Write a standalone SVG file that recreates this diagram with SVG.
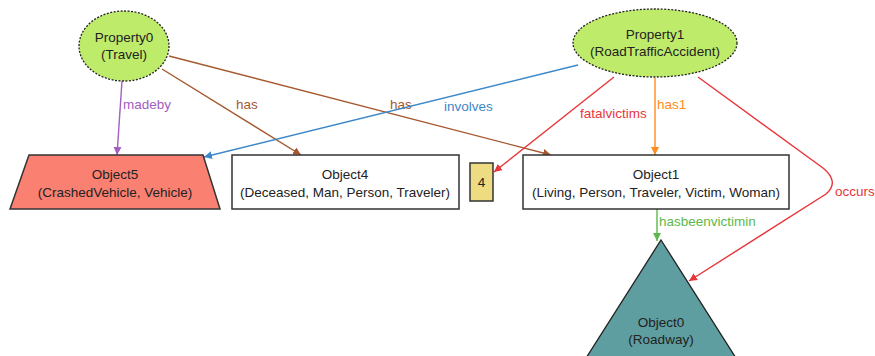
<svg xmlns="http://www.w3.org/2000/svg" width="875" height="356" viewBox="0 0 875 356">
<style>
text{font-family:"Liberation Sans",Arial,sans-serif;font-size:13.5px;text-anchor:middle;fill:#222}
.prop{fill:#bfeb6a;stroke:#222;stroke-width:1.3;stroke-dasharray:2 1.5}
.box{fill:#fff;stroke:#333;stroke-width:1.5}
.e{fill:none;stroke-width:1.4}
.lbl{text-anchor:start}
</style>
<defs>
<marker id="aP" viewBox="0 0 10 10" refX="10" refY="5" markerWidth="8" markerHeight="8" orient="auto" markerUnits="userSpaceOnUse"><path d="M0,0L10,5L0,10z" fill="#a25ec0"/></marker>
<marker id="aB" viewBox="0 0 10 10" refX="10" refY="5" markerWidth="8" markerHeight="8" orient="auto" markerUnits="userSpaceOnUse"><path d="M0,0L10,5L0,10z" fill="#a5582e"/></marker>
<marker id="aL" viewBox="0 0 10 10" refX="10" refY="5" markerWidth="8" markerHeight="8" orient="auto" markerUnits="userSpaceOnUse"><path d="M0,0L10,5L0,10z" fill="#3d88c8"/></marker>
<marker id="aR" viewBox="0 0 10 10" refX="10" refY="5" markerWidth="8" markerHeight="8" orient="auto" markerUnits="userSpaceOnUse"><path d="M0,0L10,5L0,10z" fill="#e8353a"/></marker>
<marker id="aO" viewBox="0 0 10 10" refX="10" refY="5" markerWidth="8" markerHeight="8" orient="auto" markerUnits="userSpaceOnUse"><path d="M0,0L10,5L0,10z" fill="#ff8c1a"/></marker>
<marker id="aG" viewBox="0 0 10 10" refX="10" refY="5" markerWidth="8" markerHeight="8" orient="auto" markerUnits="userSpaceOnUse"><path d="M0,0L10,5L0,10z" fill="#5cb84c"/></marker>
</defs>
<g id="connectors">
<path class="e" stroke="#a25ec0" d="M122,81 L117,155" marker-end="url(#aP)"/>
<text class="lbl" x="123" y="109" style="fill:#a25ec0">madeby</text>
<path class="e" stroke="#a5582e" d="M162,69 L301,155" marker-end="url(#aB)"/>
<text class="lbl" x="236" y="109" style="fill:#a5582e">has</text>
<path class="e" stroke="#a5582e" d="M169,56 L551,155" marker-end="url(#aB)"/>
<text class="lbl" x="390" y="109" style="fill:#a5582e">has</text>
<path class="e" stroke="#3d88c8" d="M578,65 L204,157" marker-end="url(#aL)"/>
<text class="lbl" x="444" y="111" style="fill:#3d88c8">involves</text>
<path class="e" stroke="#e8353a" d="M614,77 L494,172" marker-end="url(#aR)"/>
<text class="lbl" x="580" y="118" style="fill:#e8353a">fatalvictims</text>
<path class="e" stroke="#ff8c1a" d="M655,78 L655,155" marker-end="url(#aO)"/>
<text class="lbl" x="657" y="109" style="fill:#ff8c1a">has1</text>
<path class="e" stroke="#e8353a" d="M698,77 L823,168 Q840,182 826,194 L689,281" marker-end="url(#aR)"/>
<text class="lbl" x="835" y="196" style="fill:#e8353a">occurs</text>
<path class="e" stroke="#5cb84c" d="M657,209 L657,241" marker-end="url(#aG)"/>
<text class="lbl" x="659" y="226" style="fill:#5cb84c">hasbeenvictimin</text>
</g>
<g id="Property0">
<ellipse class="prop" cx="124" cy="46" rx="45" ry="35"/>
<text x="124" y="42">Property0</text>
<text x="124" y="59">(Travel)</text>
</g>
<g id="Property1">
<ellipse class="prop" cx="655" cy="43" rx="82" ry="34"/>
<text x="655" y="39">Property1</text>
<text x="655" y="56">(RoadTrafficAccident)</text>
</g>
<g id="Object5">
<path d="M29,155 L203,155 L220,209 L10,209 Z" fill="#fa8072" stroke="#333" stroke-width="1.5"/>
<text x="115" y="179">Object5</text>
<text x="115" y="197">(CrashedVehicle, Vehicle)</text>
</g>
<g id="Object4">
<rect class="box" x="232" y="155" width="227" height="54"/>
<text x="345" y="179">Object4</text>
<text x="345" y="197">(Deceased, Man, Person, Traveler)</text>
</g>
<g id="Object4count">
<rect x="470" y="163" width="23" height="38" fill="#eedc82" stroke="#333" stroke-width="1.5"/>
<text x="481.5" y="187">4</text>
</g>
<g id="Object1">
<rect class="box" x="523" y="155" width="266" height="54"/>
<text x="656" y="179">Object1</text>
<text x="656" y="197">(Living, Person, Traveler, Victim, Woman)</text>
</g>
<g id="Object0">
<path d="M661,240 L748,377 L574,377 Z" fill="#5f9ea0" stroke="#222" stroke-width="1.3"/>
<text x="661" y="327">Object0</text>
<text x="661" y="344">(Roadway)</text>
</g>
</svg>
